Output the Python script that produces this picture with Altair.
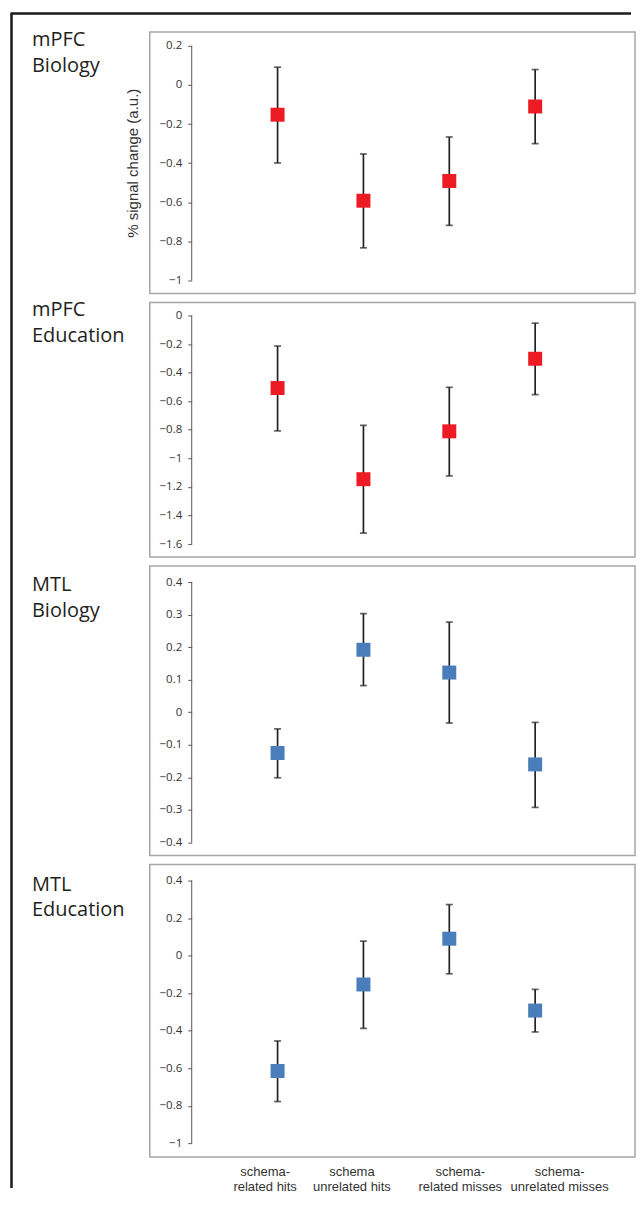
import altair as alt
import pandas as pd

# ---- data -------------------------------------------------------------
categories = ["schema-related hits", "schema unrelated hits",
              "schema-related misses", "schema-unrelated misses"]
category_lines = [["schema-", "related hits"], ["schema", "unrelated hits"],
                  ["schema-", "related misses"], ["schema-", "unrelated misses"]]
# where each category label sits along the x axis (in category units)
category_label_pos = [0.849, 1.860, 3.122, 4.279]
panel_labels = ["mPFC\nBiology", "mPFC\nEducation", "MTL\nBiology", "MTL\nEducation"]
panel_colors = ["#ED1C24", "#ED1C24", "#4A7EBB", "#4A7EBB"]

means = [
    [-0.152, -0.592, -0.491, -0.110],
    [-0.508, -1.146, -0.811, -0.303],
    [-0.125, 0.192, 0.122, -0.160],
    [-0.615, -0.154, 0.090, -0.293],
]
lows = [
    [-0.399, -0.833, -0.718, -0.300],
    [-0.808, -1.523, -1.123, -0.554],
    [-0.201, 0.082, -0.033, -0.292],
    [-0.778, -0.388, -0.097, -0.407],
]
highs = [
    [0.091, -0.353, -0.266, 0.079],
    [-0.214, -0.769, -0.503, -0.054],
    [-0.051, 0.303, 0.277, -0.031],
    [-0.455, 0.077, 0.272, -0.180],
]
y_ticks = [
    [0.2, 0, -0.2, -0.4, -0.6, -0.8, -1],
    [0, -0.2, -0.4, -0.6, -0.8, -1, -1.2, -1.4, -1.6],
    [0.4, 0.3, 0.2, 0.1, 0, -0.1, -0.2, -0.3, -0.4],
    [0.4, 0.2, 0, -0.2, -0.4, -0.6, -0.8, -1],
]
y_title = "% signal change (a.u.)"

# ---- layout (not data) ------------------------------------------------
y_domains = [[-1.0666, 0.2715], [-1.691, 0.0908], [-0.440, 0.449], [-1.074, 0.485]]
heights = [262, 255, 290, 293]
label_y = [-2, -2, 9, 10]
W = 486
X_DOMAIN = [-0.4884, 5.1628]
AXIS_PX = W * (0 - X_DOMAIN[0]) / (X_DOMAIN[1] - X_DOMAIN[0])

label_expr = "[" + ",".join(
    "[" + ",".join("'" + s + "'" for s in lines) + "]" for lines in category_lines
) + "][indexof([" + ",".join(str(p) for p in category_label_pos) + "], datum.value)]"


def panel(k):
    df = pd.DataFrame({
        "category": categories,
        "pos": list(range(1, len(categories) + 1)),
        "mean": means[k],
        "lo": lows[k],
        "hi": highs[k],
    })
    if k == len(means) - 1:
        xaxis = alt.Axis(values=category_label_pos, labelExpr=label_expr, ticks=False,
                         tickSize=0, domain=False, grid=False, title=None,
                         labelPadding=8, labelFont="Liberation Sans",
                         labelFontSize=13, labelColor="#333333",
                         labelLineHeight=15, labelBaseline="top",
                         labelOverlap=False, labelBound=False, labelFlush=False)
    else:
        xaxis = None
    xs = alt.Scale(domain=X_DOMAIN, nice=False, zero=False)
    ys = alt.Scale(domain=y_domains[k], nice=False, zero=False)
    yaxis = alt.Axis(
        values=y_ticks[k], format="~g", domain=False, grid=False,
        offset=-AXIS_PX, tickSize=4, tickColor="#595959", tickWidth=1,
        labelFont="Open Sans", labelFontSize=11.5, labelColor="#333333",
        labelPadding=6, labelOverlap=False,
        title=y_title if k == 0 else None,
        titleFont="Liberation Sans", titleFontSize=15, titleFontWeight="normal",
        titleColor="#333333", titleX=-51,
    )

    def X(f):
        return alt.X(f, type="quantitative", scale=xs, axis=xaxis)

    def Y(f):
        return alt.Y(f, type="quantitative", scale=ys, axis=yaxis)

    axis_df = pd.DataFrame({"pos": [0], "lo": [min(y_ticks[k])], "hi": [max(y_ticks[k])]})
    axis_line = alt.Chart(axis_df).mark_rule(color="#595959", strokeWidth=1).encode(
        x=X("pos"), y=Y("lo"), y2="hi")

    base = alt.Chart(df)
    bars = base.mark_rule(color="#222222", strokeWidth=1.7).encode(
        x=X("pos"), y=Y("lo"), y2="hi")
    cap_lo = base.mark_tick(orient="horizontal", color="#222222", size=7,
                            thickness=1.7).encode(x=X("pos"), y=Y("lo"))
    cap_hi = base.mark_tick(orient="horizontal", color="#222222", size=7,
                            thickness=1.7).encode(x=X("pos"), y=Y("hi"))
    pts = base.mark_square(color=panel_colors[k], opacity=1, size=196).encode(
        x=X("pos"), y=Y("mean"), tooltip=["category", "mean"])

    lab_df = pd.DataFrame({"label": [panel_labels[k]]})
    label = alt.Chart(lab_df).mark_text(
        align="left", baseline="top", font="Open Sans", fontSize=20,
        lineHeight=26, lineBreak="\n", color="#231f20",
    ).encode(text="label:N", x=alt.value(-118), y=alt.value(label_y[k]))

    layers = [axis_line, bars, cap_lo, cap_hi, pts, label]
    if k == 0:
        frame_df = pd.DataFrame({"f": [0]})
        left = alt.Chart(frame_df).mark_rule(color="#1a1a1a", strokeWidth=2.5).encode(
            x=alt.value(-138.5), y=alt.value(-18.5), y2=alt.value(1158))
        top = alt.Chart(frame_df).mark_rule(color="#1a1a1a", strokeWidth=2.5).encode(
            x=alt.value(-139.5), x2=alt.value(482), y=alt.value(-18.5))
        layers += [left, top]
    return alt.layer(*layers).properties(width=W, height=heights[k])


chart = alt.vconcat(*[panel(k) for k in range(4)], spacing=9, bounds="flush").properties(
    padding={"left": 0, "top": 2, "right": 0, "bottom": 0},
    background="white",
).configure_view(stroke="#a6a6a6", strokeWidth=1.5)

chart.save("out.html", embed_options={"renderer": "svg", "actions": False})
